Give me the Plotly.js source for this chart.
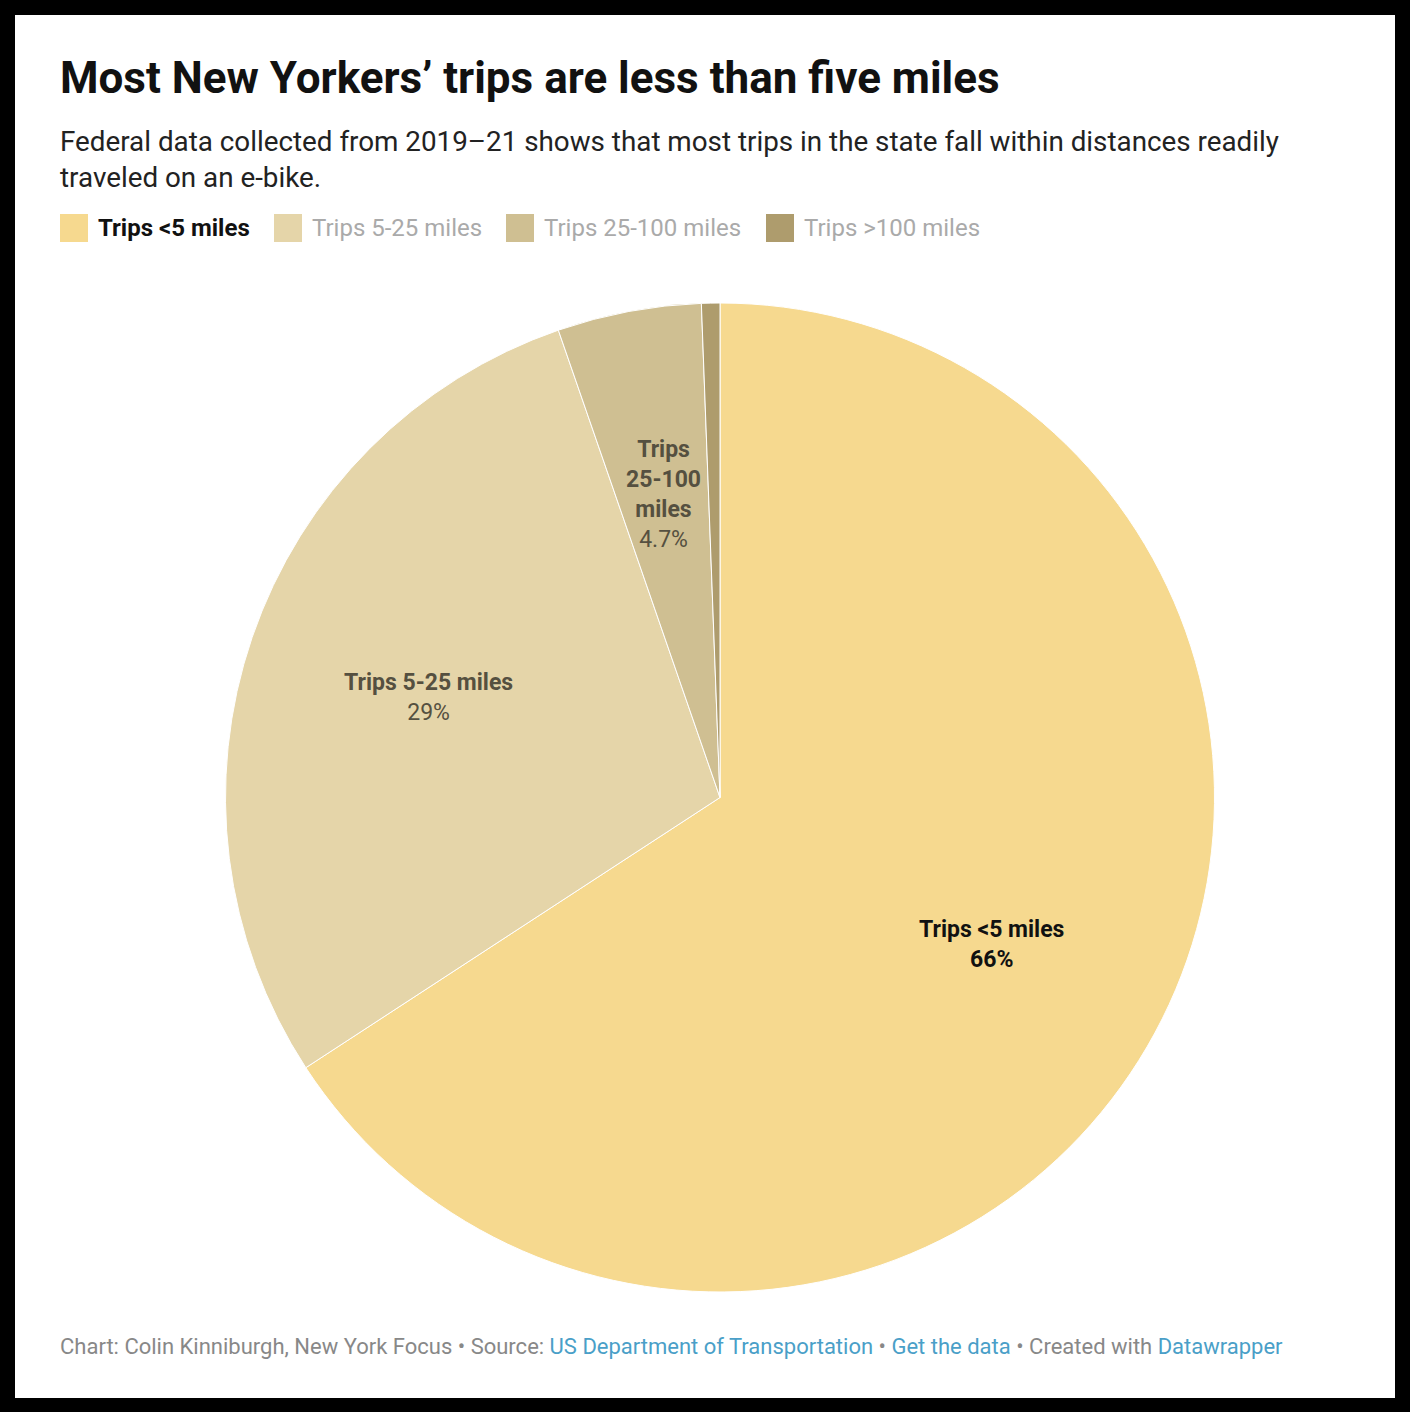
<!DOCTYPE html>
<html>
<head>
<meta charset="utf-8">
<script src="https://cdn.plot.ly/plotly-3.0.1.min.js"></script>
<style>
  html, body { margin: 0; padding: 0; background: #000; width: 1410px; height: 1412px; overflow: hidden; }
  #frame { position: absolute; left: 15px; top: 15px; width: 1380px; height: 1383px; background: #fff; }
  #chart { width: 1380px; height: 1383px; }
</style>
</head>
<body>
<div id="frame"><div id="chart"></div></div>
<script>
// ---- data ----
const categories = ["Trips <5 miles", "Trips 5-25 miles", "Trips 25-100 miles", "Trips >100 miles"];
const shares = [65.8, 28.9, 4.7, 0.6];
const sliceColors = ["#f6d98f", "#e5d5a9", "#cfbf92", "#ae9c6d"];
const labelNames = ["Trips &lt;5 miles", "Trips 5-25 miles", "Trips<br>25-100<br>miles", ""];
const percentLabels = ["66%", "29%", "4.7%", ""];
const labelColors = ["#111111", "#555040", "#555040", "#555040"];
const titleText = "Most New Yorkers’ trips are less than five miles";
const subtitleText = "Federal data collected from 2019–21 shows that most trips in the state fall within distances readily<br>traveled on an e-bike.";

// ---- geometry (pixels inside the white area) ----
const W = 1380, H = 1383;
const pieLeft = 210, pieRight = 1200, pieTop = 288, pieBottom = 1277;
const domX = [pieLeft / W, pieRight / W];
const domY = [1 - pieBottom / H, 1 - pieTop / H];
const cxPx = (pieLeft + pieRight) / 2, cyPx = (pieTop + pieBottom) / 2;
const radius = Math.min(pieRight - pieLeft, pieBottom - pieTop) / 2;

const FONT = "Roboto, 'Noto Sans', sans-serif";

const trace = {
  type: "pie",
  labels: categories,
  values: shares,
  sort: false,
  direction: "clockwise",
  rotation: 0,
  domain: { x: domX, y: domY },
  marker: { colors: sliceColors, line: { color: "#ffffff", width: 1 } },
  textinfo: "none",
  hoverinfo: "label+percent",
  showlegend: false
};

const annotations = [];
const shapes = [];

// slice labels placed along each slice's mid-angle
const total = shares.reduce((a, b) => a + b, 0);
let cum = 0;
shares.forEach((v, i) => {
  const mid = (cum + v / 2) / total * 2 * Math.PI;
  cum += v;
  if (!percentLabels[i]) return;
  const rr = radius * 0.624;
  const px = cxPx + rr * Math.sin(mid);
  const py = cyPx - rr * Math.cos(mid);
  const bold = i === 0;
  annotations.push({
    xref: "paper", yref: "paper", x: px / W, y: 1 - py / H,
    xanchor: "center", yanchor: "middle", showarrow: false, align: "center",
    text: "<b>" + labelNames[i] + "</b><br>" + (bold ? "<b>" + percentLabels[i] + "</b>" : percentLabels[i]),
    font: { family: FONT, size: 23, color: labelColors[i] }
  });
});

// title & subtitle
annotations.push({
  xref: "paper", yref: "paper", x: 43 / W, y: 1 - 63 / H, xanchor: "left", yanchor: "middle",
  showarrow: false, align: "left", text: "<b>" + titleText + "</b>",
  font: { family: FONT, size: 44, color: "#111111" }
});
annotations.push({
  xref: "paper", yref: "paper", x: 43 / W, y: 1 - 144 / H, xanchor: "left", yanchor: "middle",
  showarrow: false, align: "left", text: subtitleText,
  font: { family: FONT, size: 27.8, color: "#222222" }
});

// legend
const legendSwatchX = [45, 259, 491, 751];
legendSwatchX.forEach((sx, i) => {
  shapes.push({
    type: "rect", xref: "paper", yref: "paper",
    x0: sx / W, x1: (sx + 28) / W, y0: 1 - 227 / H, y1: 1 - 199 / H,
    fillcolor: sliceColors[i], line: { width: 0 }
  });
  annotations.push({
    xref: "paper", yref: "paper", x: (sx + 36) / W, y: 1 - 213 / H, xanchor: "left", yanchor: "middle",
    showarrow: false, text: i === 0 ? "<b>" + categories[i].replace("<", "&lt;") + "</b>" : categories[i].replace("<", "&lt;").replace(">", "&gt;"),
    font: { family: FONT, size: 24, color: i === 0 ? "#111111" : "#aaaaaa" }
  });
});

// footer
const linkColor = "#4a9fc8";
annotations.push({
  xref: "paper", yref: "paper", x: 43 / W, y: 1 - 1331 / H, xanchor: "left", yanchor: "middle",
  showarrow: false, align: "left",
  text: "Chart: Colin Kinniburgh, New York Focus • Source: <span style='color:" + linkColor + "'>US Department of Transportation</span> • <span style='color:" + linkColor + "'>Get the data</span> • Created with <span style='color:" + linkColor + "'>Datawrapper</span>",
  font: { family: FONT, size: 22, color: "#888888" }
});

const layout = {
  width: W, height: H,
  margin: { l: 0, r: 0, t: 0, b: 0 },
  paper_bgcolor: "#ffffff",
  showlegend: false,
  annotations: annotations,
  shapes: shapes,
  font: { family: FONT }
};

Plotly.newPlot("chart", [trace], layout, { displayModeBar: false, staticPlot: true });
</script>
</body>
</html>
